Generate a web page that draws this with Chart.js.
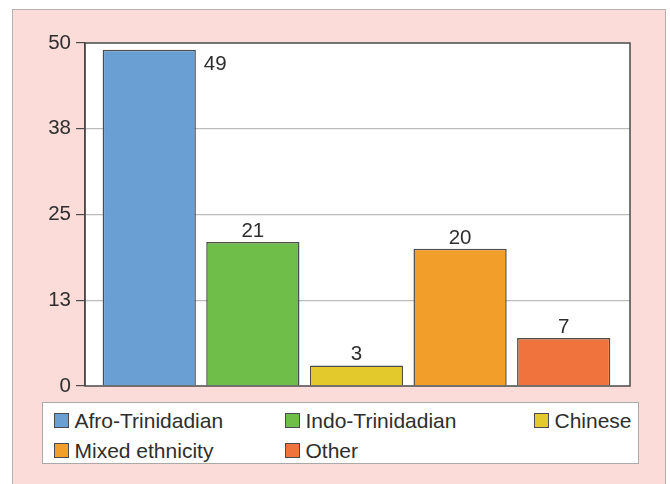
<!DOCTYPE html>
<html>
<head>
<meta charset="utf-8">
<script src="https://cdn.jsdelivr.net/npm/chart.js@4/dist/chart.umd.min.js"></script>
<style>
  html, body { margin: 0; padding: 0; background: #ffffff; }
  #panel {
    position: absolute; left: 12px; top: 9px; width: 654px; height: 495px;
    box-sizing: border-box; background: #fbdcd8; border: 1.5px solid #b2b2b2;
  }
  #chart { position: absolute; left: 0; top: 0; }
  #legend {
    position: absolute; left: 42px; top: 402px; width: 597px; height: 62px;
    box-sizing: border-box; background: #ffffff; border: 1.5px solid #a9a9a9;
    font-family: "Liberation Sans", Arial, sans-serif; font-size: 21px; color: #2e2e2e;
  }
  #legend .item { position: absolute; display: flex; align-items: center; height: 24px; white-space: nowrap; }
  #legend .sw { width: 15px; height: 15px; box-sizing: border-box; border: 1.5px solid #4a4a4a; margin-right: 6px; }
</style>
</head>
<body>
<div id="panel"></div>
<canvas id="chart" width="670" height="484"></canvas>
<div id="legend"></div>
<script>
// Respondents by ethnic group
const categories = ['Afro-Trinidadian', 'Indo-Trinidadian', 'Chinese', 'Mixed ethnicity', 'Other'];
const counts = [49, 21, 3, 20, 7];
const barColors = ['#6a9fd4', '#70be4a', '#e4c92d', '#f29e2b', '#f0733e'];
const yTickValues = [0, 12.5, 25, 37.5, 50];
const yTickLabels = ['0', '13', '25', '38', '50'];

const FONT = '"Liberation Sans", Arial, sans-serif';
const TEXT = '#2e2e2e';

// White plot area behind the grid
const plotBackground = {
  id: 'plotBackground',
  beforeDraw(chart) {
    const { ctx, chartArea: a } = chart;
    ctx.save();
    ctx.fillStyle = '#ffffff';
    ctx.fillRect(a.left, a.top, a.right - a.left, a.bottom - a.top);
    ctx.restore();
  }
};

// Frame around the plot and the count above each bar
const frameAndValues = {
  id: 'frameAndValues',
  afterDatasetsDraw(chart) {
    const { ctx, chartArea: a } = chart;
    ctx.save();
    ctx.strokeStyle = '#4a4a4a';
    ctx.lineWidth = 1.5;
    ctx.strokeRect(a.left, a.top, a.right - a.left, a.bottom - a.top);

    ctx.fillStyle = TEXT;
    ctx.font = '20.5px ' + FONT;
    const meta = chart.getDatasetMeta(0);
    meta.data.forEach((bar, i) => {
      const label = String(counts[i]);
      ctx.textBaseline = 'alphabetic';
      if (bar.y - 26 < a.top) {
        // no room above the bar: put the count beside its top
        ctx.textAlign = 'left';
        ctx.fillText(label, bar.x + bar.width / 2 + 8, bar.y + 20);
      } else {
        ctx.textAlign = 'center';
        ctx.fillText(label, bar.x, bar.y - 5);
      }
    });
    ctx.restore();
  }
};

const chart = new Chart(document.getElementById('chart'), {
  type: 'bar',
  data: {
    datasets: [{
      data: categories.map((c, i) => ({ x: i, y: counts[i] })),
      backgroundColor: barColors,
      borderColor: '#4d4d4d',
      borderWidth: 1.5,
      categoryPercentage: 1,
      barPercentage: 0.9
    }]
  },
  options: {
    responsive: false,
    animation: false,
    layout: { padding: { top: 43, right: 40, bottom: 98, left: 0 } },
    plugins: { legend: { display: false }, tooltip: { enabled: false } },
    scales: {
      x: {
        type: 'linear', min: -0.62, max: 4.64, offset: false, display: false,
        // one tick per group so the bar ruler uses the group spacing
        afterBuildTicks(scale) { scale.ticks = categories.map((c, i) => ({ value: i })); }
      },
      y: {
        min: 0,
        max: 50,
        afterFit(scale) { scale.width = 85; },
        afterBuildTicks(scale) { scale.ticks = yTickValues.map(v => ({ value: v })); },
        ticks: {
          callback: (v, i) => yTickLabels[i],
          color: TEXT,
          font: { family: FONT, size: 20.5 },
          padding: 5
        },
        grid: {
          color: c => (c.tick && (c.tick.value === 0 || c.tick.value === 50)) ? 'rgba(0,0,0,0)' : '#bcbcbc',
          lineWidth: 1.2,
          tickColor: '#4a4a4a',
          tickLength: 9
        },
        border: { color: '#4a4a4a', width: 1.5 }
      }
    }
  },
  plugins: [plotBackground, frameAndValues]
});

// Legend: three columns, built from the chart's own data
const legendCols = [10.5, 241.5, 490.5];
const legendRows = [5.5, 35.5];
const legendEl = document.getElementById('legend');
categories.forEach((name, i) => {
  const item = document.createElement('div');
  item.className = 'item';
  item.style.left = legendCols[i % 3] + 'px';
  item.style.top = legendRows[Math.floor(i / 3)] + 'px';
  const sw = document.createElement('span');
  sw.className = 'sw';
  sw.style.background = chart.data.datasets[0].backgroundColor[i];
  const txt = document.createElement('span');
  txt.textContent = name;
  item.appendChild(sw);
  item.appendChild(txt);
  legendEl.appendChild(item);
});
</script>
</body>
</html>
